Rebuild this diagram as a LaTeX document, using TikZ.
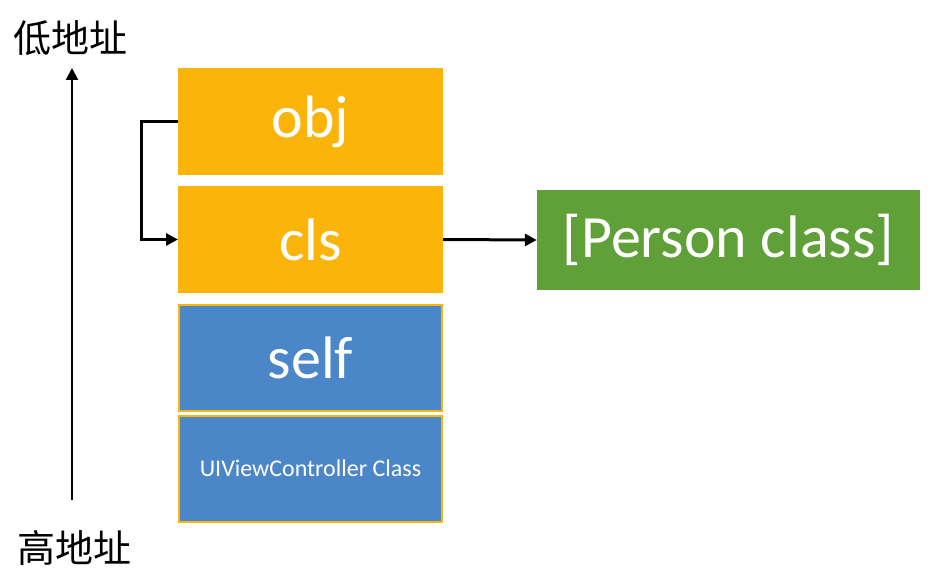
\documentclass[tikz,border=0pt]{standalone}
\usepackage{fontspec}
\setmainfont{Carlito}
\newfontfamily\cjk{Noto Sans CJK SC}
\usetikzlibrary{arrows.meta}
\definecolor{orng}{HTML}{FBB40A}
\definecolor{blu}{HTML}{4A86C8}
\definecolor{grn}{HTML}{5FA038}
\tikzset{
  cell/.style={minimum width=265pt, minimum height=107pt, inner sep=0pt, outer sep=0pt, text=white, font=\fontsize{60}{72}\selectfont},
  ocell/.style={cell, fill=orng},
  bcell/.style={cell, fill=blu, draw=orng, line width=2pt, minimum width=263pt, minimum height=106pt},
  conn/.style={line width=3pt, -{Triangle[length=12pt,width=12pt]}},
  lbl/.style={font=\cjk\fontsize{38}{44}\selectfont, inner sep=0pt}
}
\begin{document}
\begin{tikzpicture}[x=1pt,y=-1pt]
\useasboundingbox (0,0) rectangle (936,580);
\node[ocell] (obj) at (310.5,121.5) {obj};
\node[ocell] (cls) at (310.5,239.5) {cls};
\node[bcell] (self) at (310.5,358) {self};
\node[bcell, font=\fontsize{24}{28}\selectfont] (uivc) at (310.5,468.5) {UIViewController Class};
\node[fill=grn, text=white, minimum width=383pt, minimum height=100pt, inner sep=0pt, font=\fontsize{60}{72}\selectfont] (person) at (728.5,240) {[Person class]};
\coordinate (elbow) at (141,0);
\draw[conn] (obj.west) -- (elbow |- obj.west) -- (elbow |- cls.west) -- (cls.west);
\draw[conn] (cls.east) -- (person.west);
\node[lbl] (low) at (70,38) {低地址};
\node[lbl] (high) at (74,548) {高地址};
\coordinate (bot) at (72,500);
\coordinate (top) at (72,68);
\draw[conn, line width=2pt] (bot) -- (top);
\end{tikzpicture}
\end{document}
